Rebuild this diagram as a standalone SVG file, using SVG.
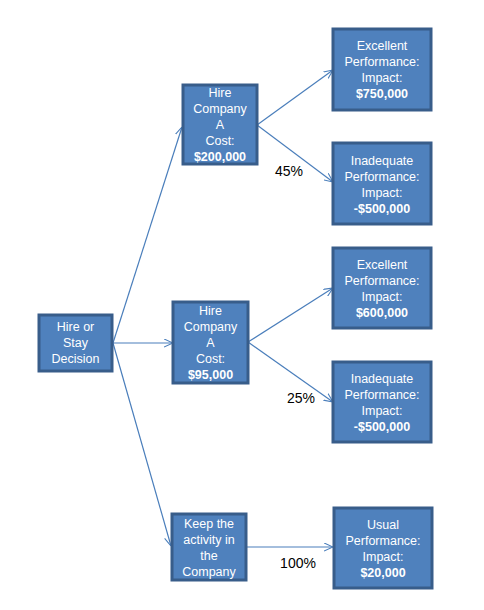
<svg xmlns="http://www.w3.org/2000/svg" width="484" height="610" viewBox="0 0 484 610">
<defs>
<marker id="arr" viewBox="0 0 10 10" refX="10" refY="5" markerWidth="9" markerHeight="9" markerUnits="userSpaceOnUse" orient="auto">
<path d="M0,0.5 L10,5 L0,9.5" fill="none" stroke="#4a7ebb" stroke-width="1.2"/>
</marker>
</defs>
<style>
.box{fill:#4f81bd;stroke:#385d8a;stroke-width:3}
.t{font-family:"Liberation Sans",Arial,sans-serif;font-size:12.5px;fill:#ffffff;text-anchor:middle}
.b{font-weight:bold}
.c{fill:none;stroke:#4a7ebb;stroke-width:1.2;marker-end:url(#arr)}
.p{font-family:"Liberation Sans",Arial,sans-serif;font-size:14px;fill:#000000;text-anchor:middle}
</style>
<rect width="484" height="610" fill="#ffffff"/>
<g id="connectors">
<line class="c" x1="113" y1="343" x2="182" y2="127"/>
<line class="c" x1="113" y1="343" x2="173" y2="343"/>
<line class="c" x1="113" y1="343" x2="171" y2="546"/>
<line class="c" x1="257" y1="125" x2="333" y2="70"/>
<line class="c" x1="257" y1="125" x2="333" y2="182"/>
<line class="c" x1="248" y1="342" x2="333" y2="288"/>
<line class="c" x1="248" y1="342" x2="333" y2="402"/>
<line class="c" x1="246" y1="547" x2="333" y2="547"/>
</g>
<g id="labels">
<text class="p" x="289" y="176">45%</text>
<text class="p" x="301" y="403">25%</text>
<text class="p" x="298" y="568">100%</text>
</g>
<g id="root">
<rect class="box" x="39" y="315" width="73" height="56"/>
<text class="t" x="75.5" y="331">Hire or</text>
<text class="t" x="75.5" y="347">Stay</text>
<text class="t" x="75.5" y="363">Decision</text>
</g>
<g id="hireA1">
<rect class="box" x="183" y="85" width="74" height="79"/>
<text class="t" x="220" y="97">Hire</text>
<text class="t" x="220" y="113">Company</text>
<text class="t" x="220" y="129">A</text>
<text class="t" x="220" y="145">Cost:</text>
<text class="t b" x="220" y="161">$200,000</text>
</g>
<g id="hireA2">
<rect class="box" x="173" y="302" width="75" height="81"/>
<text class="t" x="210.5" y="315">Hire</text>
<text class="t" x="210.5" y="331">Company</text>
<text class="t" x="210.5" y="347">A</text>
<text class="t" x="210.5" y="363">Cost:</text>
<text class="t b" x="210.5" y="379">$95,000</text>
</g>
<g id="keep">
<rect class="box" x="172" y="514" width="74" height="66"/>
<text class="t" x="209" y="527.5">Keep the</text>
<text class="t" x="209" y="543.5">activity in</text>
<text class="t" x="209" y="559.5">the</text>
<text class="t" x="209" y="575.5">Company</text>
</g>
<g id="out1">
<rect class="box" x="333" y="29" width="98" height="81"/>
<text class="t" x="382" y="50">Excellent</text>
<text class="t" x="382" y="66">Performance:</text>
<text class="t" x="382" y="82">Impact:</text>
<text class="t b" x="382" y="98">$750,000</text>
</g>
<g id="out2">
<rect class="box" x="333" y="143" width="98" height="81"/>
<text class="t" x="382" y="164.5">Inadequate</text>
<text class="t" x="382" y="180.5">Performance:</text>
<text class="t" x="382" y="196.5">Impact:</text>
<text class="t b" x="382" y="212.5">-$500,000</text>
</g>
<g id="out3">
<rect class="box" x="333" y="248" width="98" height="80"/>
<text class="t" x="382" y="268.5">Excellent</text>
<text class="t" x="382" y="284.5">Performance:</text>
<text class="t" x="382" y="300.5">Impact:</text>
<text class="t b" x="382" y="316.5">$600,000</text>
</g>
<g id="out4">
<rect class="box" x="333" y="362" width="98" height="80"/>
<text class="t" x="382" y="382.5">Inadequate</text>
<text class="t" x="382" y="398.5">Performance:</text>
<text class="t" x="382" y="414.5">Impact:</text>
<text class="t b" x="382" y="430.5">-$500,000</text>
</g>
<g id="out5">
<rect class="box" x="334" y="508" width="98" height="80"/>
<text class="t" x="383" y="528.5">Usual</text>
<text class="t" x="383" y="544.5">Performance:</text>
<text class="t" x="383" y="560.5">Impact:</text>
<text class="t b" x="383" y="576.5">$20,000</text>
</g>
</svg>
